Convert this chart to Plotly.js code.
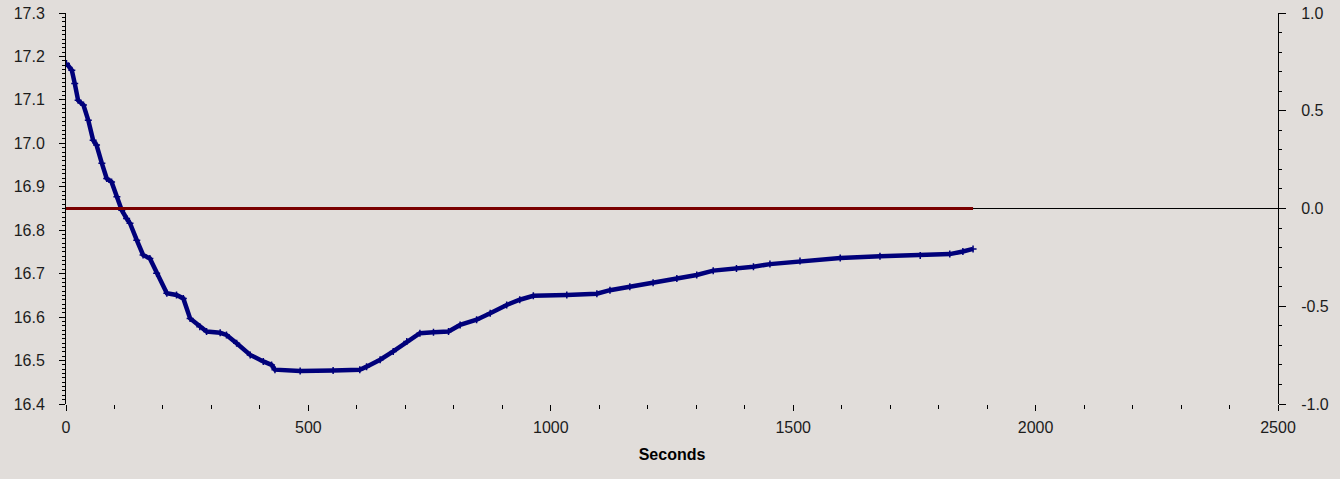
<!DOCTYPE html>
<html>
<head>
<meta charset="utf-8">
<script src="https://cdn.plot.ly/plotly-3.0.1.min.js"></script>
<style>
html,body{margin:0;padding:0;background:#e1ddda;}
#chart{width:1340px;height:479px;}
</style>
</head>
<body>
<div id="chart"></div>
<script>
// Measured series (left axis)
var seconds = [1, 12, 18, 25, 36, 46, 56, 63, 74, 84, 94, 105, 115, 125, 132, 146, 159, 173, 187, 208, 228, 242, 256, 276, 290, 318, 331, 352, 380, 407, 424, 431, 483, 551, 606, 620, 648, 675, 703, 730, 758, 789, 813, 847, 875, 909, 936, 964, 1033, 1095, 1122, 1163, 1211, 1260, 1301, 1335, 1383, 1418, 1452, 1514, 1597, 1679, 1762, 1823, 1850, 1871];
var values = [17.184, 17.168, 17.138, 17.099, 17.088, 17.053, 17.007, 16.996, 16.954, 16.919, 16.911, 16.877, 16.846, 16.827, 16.816, 16.777, 16.743, 16.735, 16.701, 16.655, 16.651, 16.643, 16.597, 16.578, 16.567, 16.564, 16.559, 16.540, 16.513, 16.498, 16.490, 16.479, 16.476, 16.477, 16.479, 16.486, 16.502, 16.521, 16.544, 16.563, 16.565, 16.567, 16.582, 16.594, 16.609, 16.628, 16.640, 16.649, 16.651, 16.654, 16.662, 16.670, 16.679, 16.689, 16.697, 16.707, 16.712, 16.716, 16.722, 16.729, 16.736, 16.740, 16.742, 16.745, 16.751, 16.757];
// Second series (right axis)
var refSeconds = [0, 1871];
var refValues = [0, 0];
// Tick labels
var rightTickVals = [-1, -0.5, 0, 0.5, 1];
var rightTickText = ['-1.0', '-0.5', '0.0', '0.5', '1.0'];

var font = {family: 'Arial, "Liberation Sans", sans-serif', size: 16, color: '#1c1c1c'};

var traces = [
  {x: refSeconds, y: refValues, xaxis: 'x', yaxis: 'y2', type: 'scatter', mode: 'lines',
   line: {color: '#7a0000', width: 3}, hoverinfo: 'skip', showlegend: false},
  {x: seconds, y: values, xaxis: 'x', yaxis: 'y', type: 'scatter', mode: 'lines+markers',
   line: {color: '#00007a', width: 4.5},
   marker: {symbol: 'cross-thin-open', size: 5, color: '#00007a', line: {color: '#00007a', width: 1.5}},
   showlegend: false}
];

var layout = {
  width: 1340, height: 479,
  margin: {l: 66, r: 62, t: 13, b: 75, pad: 0},
  paper_bgcolor: '#e1ddda', plot_bgcolor: '#e1ddda',
  showlegend: false,
  font: font,
  xaxis: {
    range: [0, 2500], showgrid: false, zeroline: false, showline: false,
    ticks: 'outside', ticklen: 6, tickcolor: '#000', tickwidth: 1,
    tickmode: 'linear', tick0: 0, dtick: 500,
    minor: {ticks: 'outside', dtick: 100, ticklen: 4, tickcolor: '#000', tickwidth: 1, showgrid: false},
    tickfont: font, ticklabelstandoff: 3,
    title: {text: '<b>Seconds</b>', font: {family: 'Arial, "Liberation Sans", sans-serif', size: 16, color: '#000'}, standoff: 13}
  },
  xaxis2: {
    overlaying: 'x', anchor: 'y', side: 'bottom', range: [0, 2500],
    showgrid: false, zeroline: false, showline: false, showticklabels: false,
    ticks: 'inside', ticklen: 6, tickcolor: '#000', tickwidth: 1,
    tickmode: 'linear', tick0: 0, dtick: 500,
    minor: {ticks: 'inside', dtick: 100, ticklen: 2, tickcolor: '#000', tickwidth: 1, showgrid: false}
  },
  xaxis3: {
    overlaying: 'x', anchor: 'y', side: 'top', range: [0, 2500],
    showgrid: false, zeroline: false, showline: false, showticklabels: false,
    ticks: 'inside', ticklen: 3, tickcolor: '#000', tickwidth: 1,
    tickmode: 'linear', tick0: 0, dtick: 100
  },
  yaxis: {
    range: [16.4, 17.3], showgrid: false, zeroline: false,
    showline: true, linecolor: '#000', linewidth: 1,
    ticks: 'outside', ticklen: 6, tickcolor: '#000', tickwidth: 1,
    tickmode: 'linear', tick0: 16.4, dtick: 0.1, tickformat: '.1f',
    minor: {ticks: 'outside', dtick: 0.01, ticklen: 3, tickcolor: '#000', tickwidth: 1, showgrid: false},
    tickfont: font, ticklabelstandoff: 11
  },
  yaxis3: {
    overlaying: 'y', anchor: 'x', side: 'left', range: [16.4, 17.3],
    showgrid: false, zeroline: false, showline: false, showticklabels: false,
    ticks: 'inside', ticklen: 6, tickcolor: '#000', tickwidth: 1,
    tickmode: 'linear', tick0: 16.4, dtick: 0.1,
    minor: {ticks: 'inside', dtick: 0.01, ticklen: 4, tickcolor: '#000', tickwidth: 1, showgrid: false}
  },
  yaxis2: {
    overlaying: 'y', anchor: 'x', side: 'right', range: [-1, 1], showgrid: false,
    zeroline: true, zerolinecolor: '#000', zerolinewidth: 1,
    showline: true, linecolor: '#000', linewidth: 1,
    ticks: 'outside', ticklen: 7, tickcolor: '#000', tickwidth: 1,
    tickmode: 'array', tickvals: rightTickVals, ticktext: rightTickText,
    minor: {ticks: 'outside', tickmode: 'linear', tick0: -1, dtick: 0.1, ticklen: 3, tickcolor: '#000', tickwidth: 1, showgrid: false},
    tickfont: font, ticklabelstandoff: 12
  },
  yaxis4: {
    overlaying: 'y', anchor: 'x', side: 'right', range: [-1, 1],
    showgrid: false, zeroline: false, showline: false, showticklabels: false,
    ticks: 'inside', ticklen: 6, tickcolor: '#000', tickwidth: 1,
    tickmode: 'linear', tick0: -1, dtick: 0.5,
    minor: {ticks: 'inside', tickmode: 'linear', tick0: -1, dtick: 0.1 / 3, ticklen: 5, tickcolor: '#000', tickwidth: 1, showgrid: false}
  }
};

Plotly.newPlot('chart', traces, layout, {displayModeBar: false, staticPlot: true});
</script>
</body>
</html>
